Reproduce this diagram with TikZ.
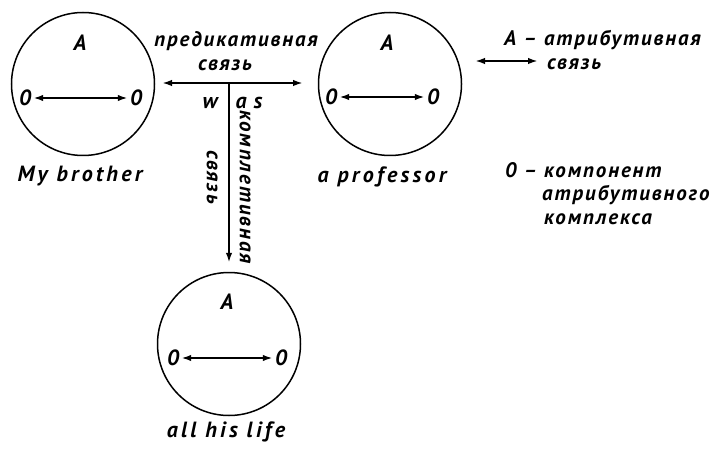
\documentclass[tikz,border=0pt]{standalone}
\usepackage{fontspec}
\setmainfont{PT Sans}
\newfontfamily\capfont[LetterSpace=15]{PT Sans}
\newfontfamily\notefont[LetterSpace=9]{PT Sans}
\usetikzlibrary{arrows.meta, positioning}

\begin{document}
\begin{tikzpicture}[
    x=1pt, y=-1pt,
    member/.style={
        circle, draw, line width=1.5pt,
        minimum size=143pt, inner sep=0pt
    },
    lbl/.style={
        inner sep=0pt, font=\capfont\fontsize{22}{23}\selectfont\bfseries\itshape
    },
    note/.style={
        inner sep=0pt, font=\notefont\fontsize{21}{22}\selectfont\bfseries\itshape
    },
    link/.style={
        line width=2.8pt,
        {Latex[length=10pt,width=6.5pt]}-{Latex[length=10pt,width=6.5pt]}
    },
    >={Latex[length=10pt,width=6.5pt]}
]
\useasboundingbox (0,0) rectangle (714,449);

% My brother
\node[member] (brother) at (83,84) {};
\node[lbl] (brotherA) at (80,43) {A};
\node[lbl] (brotherL) at (25,98) {0};
\node[lbl] (brotherR) at (136,98) {0};
\node[lbl] (brotherT) at (80,176) {My brother};
\draw[link, shorten <=2pt, shorten >=2pt] (brotherL) -- (brotherR);

% a professor
\node[member] (prof) at (390,84) {};
\node[lbl] (profA) at (387,43) {A};
\node[lbl] (profL) at (331,97) {0};
\node[lbl] (profR) at (433,97) {0};
\node[lbl] (profT) at (382,177) {a professor};
\draw[link, shorten <=2pt, shorten >=2pt] (profL) -- (profR);

% all his life
\node[member] (life) at (229,344) {};
\node[lbl] (lifeA) at (227,302) {A};
\node[lbl] (lifeL) at (173,358) {0};
\node[lbl] (lifeR) at (281,358) {0};
\node[lbl] (lifeT) at (226,432) {all his life};
\draw[link, shorten <=2pt, shorten >=2pt] (lifeL) -- (lifeR);

% predicative and completive links
\coordinate (predL) at (162,83);
\coordinate (predR) at (303,83);
\coordinate (junc) at (229,83);
\draw[link] (predL) -- (predR);
\draw[line width=2.8pt, ->, shorten >=9pt] (junc) -- (life.north);
\node[note] (predT) at (236,41) {предикативная};
\node[note] (predS) at (225,65) {связь};
\node[lbl] (wasW) at (210,103) {w};
\node[lbl] (wasAS) at (249,103) {a\hspace{7pt}s};
\node[note, rotate=-90] (complT) at (245,187) {комплетивная};
\node[note, rotate=-90] (complS) at (212,177) {связь};

% legend
\coordinate (keyL) at (475,61);
\coordinate (keyR) at (538,61);
\draw[link] (keyL) -- (keyR);
\node[note, anchor=west] (keyA) at (504,40) {A – атрибутивная};
\node[note, anchor=west] (keyS) at (547,64) {связь};
\node[note, anchor=west] (key0) at (505,170) {0 – компонент};
\node[note, anchor=west] (key0b) at (542,195) {атрибутивного};
\node[note, anchor=west] (key0c) at (544,219) {комплекса};

\end{tikzpicture}
\end{document}
